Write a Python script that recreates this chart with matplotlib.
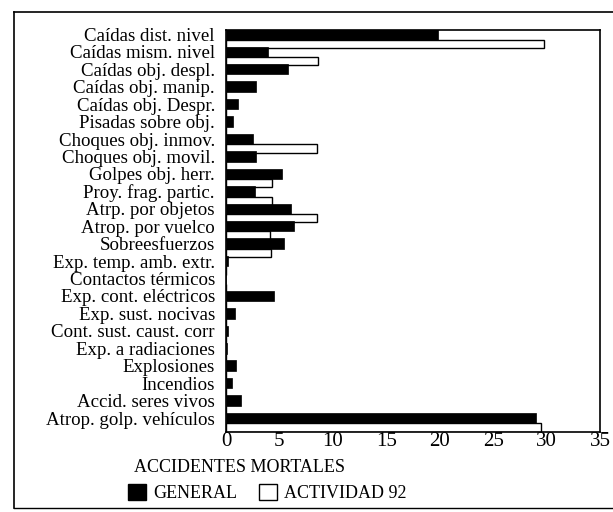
import numpy as np
import matplotlib
matplotlib.use("Agg")
import matplotlib.pyplot as plt
from matplotlib.patches import Patch
from matplotlib.lines import Line2D

plt.rcParams['font.family'] = ['Liberation Serif', 'DejaVu Serif']

categories = [
    "Caídas dist. nivel", "Caídas mism. nivel", "Caídas obj. despl.",
    "Caídas obj. manip.", "Caídas obj. Despr.", "Pisadas sobre obj.",
    "Choques obj. inmov.", "Choques obj. movil.", "Golpes obj. herr.",
    "Proy. frag. partic.", "Atrp. por objetos", "Atrop. por vuelco",
    "Sobreesfuerzos", "Exp. temp. amb. extr.", "Contactos térmicos",
    "Exp. cont. eléctricos", "Exp. sust. nocivas", "Cont. sust. caust. corr",
    "Exp. a radiaciones", "Explosiones", "Incendios", "Accid. seres vivos",
    "Atrop. golp. vehículos",
]
general = [19.8, 3.9, 5.8, 2.8, 1.1, 0.65, 2.5, 2.8, 5.2, 2.7, 6.1, 6.4,
           5.4, 0.2, 0.0, 4.5, 0.85, 0.2, 0.1, 0.95, 0.6, 1.4, 29.0]
actividad = [29.8, 8.6, 0, 0, 0, 0, 8.5, 0, 4.3, 4.3, 8.5, 4.1,
             4.2, 0, 0, 0, 0, 0, 0, 0, 0, 0, 29.5]
xticks = [0, 5, 10, 15, 20, 25, 30, 35]

fig = plt.figure(figsize=(6.13, 5.12), dpi=100)
ax = fig.add_axes([226 / 613, 1 - 432 / 512, 374 / 613, 402 / 512])

y = np.arange(len(categories))
ax.barh(y + 0.54, actividad, height=0.48, color='white', edgecolor='black',
        linewidth=1.0, zorder=2)
ax.barh(y, general, height=0.6, color='black', edgecolor='black',
        linewidth=0.5, zorder=3)

ax.set_xlim(0, 35)
ax.set_ylim(22.8, -0.25)
ax.set_xticks(xticks)
ax.set_xticklabels([str(t) for t in xticks], fontsize=15)
ax.set_yticks(y)
ax.set_yticklabels(categories, fontsize=13.6)
ax.tick_params(axis='both', length=0)
ax.tick_params(axis='y', pad=8)
ax.tick_params(axis='x', pad=0)
for s in ax.spines.values():
    s.set_linewidth(1.2)

fig.text(240 / 613, 1 - 467 / 512, "ACCIDENTES MORTALES", ha='center',
         va='center', fontsize=13)

handles = [Patch(facecolor='black', edgecolor='black'),
           Patch(facecolor='white', edgecolor='black')]
fig.legend(handles, ["GENERAL", "ACTIVIDAD 92"], loc='center',
           bbox_to_anchor=(267 / 613, 1 - 493 / 512), ncol=2, frameon=False,
           fontsize=13, handlelength=1.0, handleheight=1.0, handletextpad=0.4,
           columnspacing=1.2)

# outer frame
fig.add_artist(Line2D([14 / 613, 14 / 613], [1 - 508 / 512, 1 - 12 / 512],
                      color='black', lw=1.2))
fig.add_artist(Line2D([14 / 613, 1], [1 - 12 / 512, 1 - 12 / 512],
                      color='black', lw=1.2))
fig.add_artist(Line2D([14 / 613, 1], [1 - 508 / 512, 1 - 508 / 512],
                      color='black', lw=1.0))

fig.savefig("out.png", dpi=100)
